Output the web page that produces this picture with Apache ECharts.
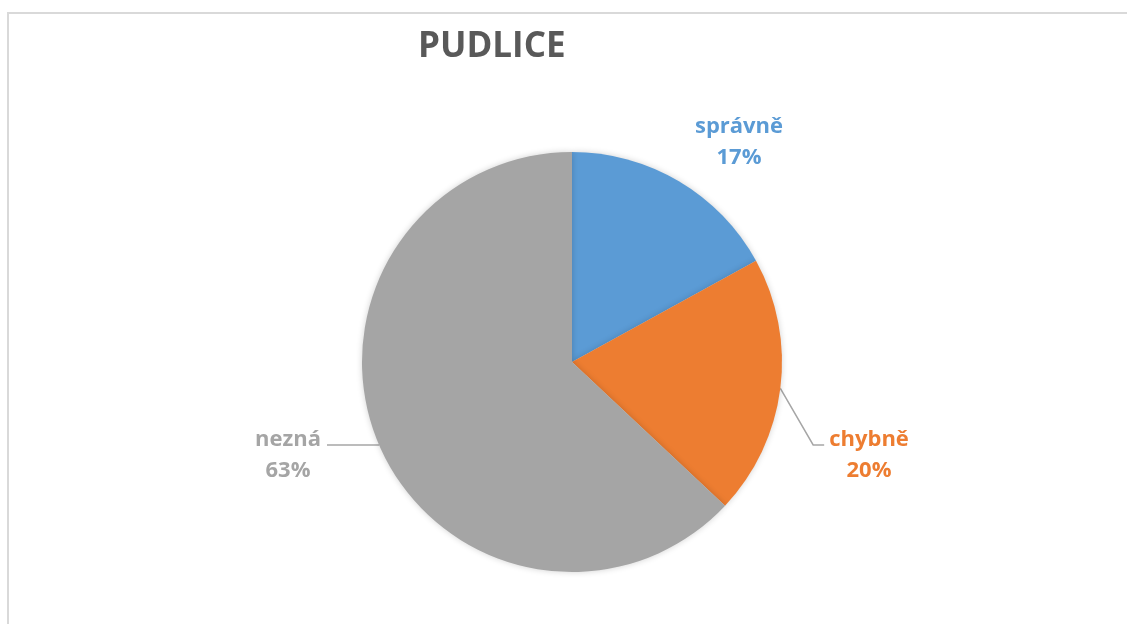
<!DOCTYPE html>
<html>
<head>
<meta charset="utf-8">
<script src="https://cdn.jsdelivr.net/npm/echarts@6/dist/echarts.min.js"></script>
<style>
  html, body { margin: 0; padding: 0; background: #fff; overflow: hidden; }
  .frame {
    position: absolute;
    left: 7px;
    top: 12px;
    width: 1200px;
    height: 700px;
    border-top: 2px solid #d9d9d9;
    border-left: 2px solid #d9d9d9;
  }
  #chart { position: absolute; left: 0; top: 0; width: 1127px; height: 624px; }
</style>
</head>
<body>
<div class="frame"></div>
<div id="chart"></div>
<script>
// data
const categories = ['správně', 'chybně', 'nezná'];
const values = [17, 20, 63];
const colors = ['#5B9BD5', '#ED7D31', '#A5A5A5'];

// where each label sits (Excel-like placement), centre of the text block
const labelPos = [
  { x: 739, y: 142 },
  { x: 869, y: 455 },
  { x: 288, y: 455 }
];

const chart = echarts.init(document.getElementById('chart'));

const option = {
  animation: false,
  title: {
    text: 'PUDLICE',
    left: 418,
    top: 30,
    padding: 0,
    textStyle: {
      fontFamily: 'Open Sans',
      fontWeight: 'bold',
      fontSize: 35,
      color: '#595959'
    }
  },
  series: [
    {
      type: 'pie',
      center: [572, 362],
      radius: 210,
      startAngle: 90,
      clockwise: true,
      data: categories.map((name, i) => ({
        name: name,
        value: values[i],
        itemStyle: { color: colors[i] },
        label: { color: colors[i] },
        labelLine: { show: i !== 0 }
      })),
      itemStyle: {
        shadowBlur: 6,
        shadowColor: 'rgba(0,0,0,0.18)'
      },
      label: {
        show: true,
        position: 'outside',
        formatter: '{b}\n{d}%',
        fontFamily: 'Open Sans',
        fontWeight: 'bold',
        fontSize: 22,
        lineHeight: 31,
        align: 'center'
      },
      labelLine: {
        lineStyle: { color: '#A6A6A6', width: 1.5 }
      },
      labelLayout: function (params) {
        const p = labelPos[params.dataIndex];
        const w = params.labelRect.width;
        const res = { x: p.x, y: p.y, align: 'center', verticalAlign: 'middle' };
        const pts = params.labelLinePoints;
        if (pts && pts.length) {
          const start = pts[0];
          const lineY = p.y - 10;
          if (params.dataIndex === 1) {
            const left = p.x - w / 2;
            res.labelLinePoints = [start, [left - 16, lineY], [left - 5, lineY]];
          } else if (params.dataIndex === 2) {
            const right = p.x + w / 2;
            res.labelLinePoints = [[start[0], lineY], [right + 12, lineY], [right + 6, lineY]];
          }
        }
        return res;
      },
      emphasis: { disabled: true }
    }
  ]
};

chart.setOption(option);
</script>
</body>
</html>
